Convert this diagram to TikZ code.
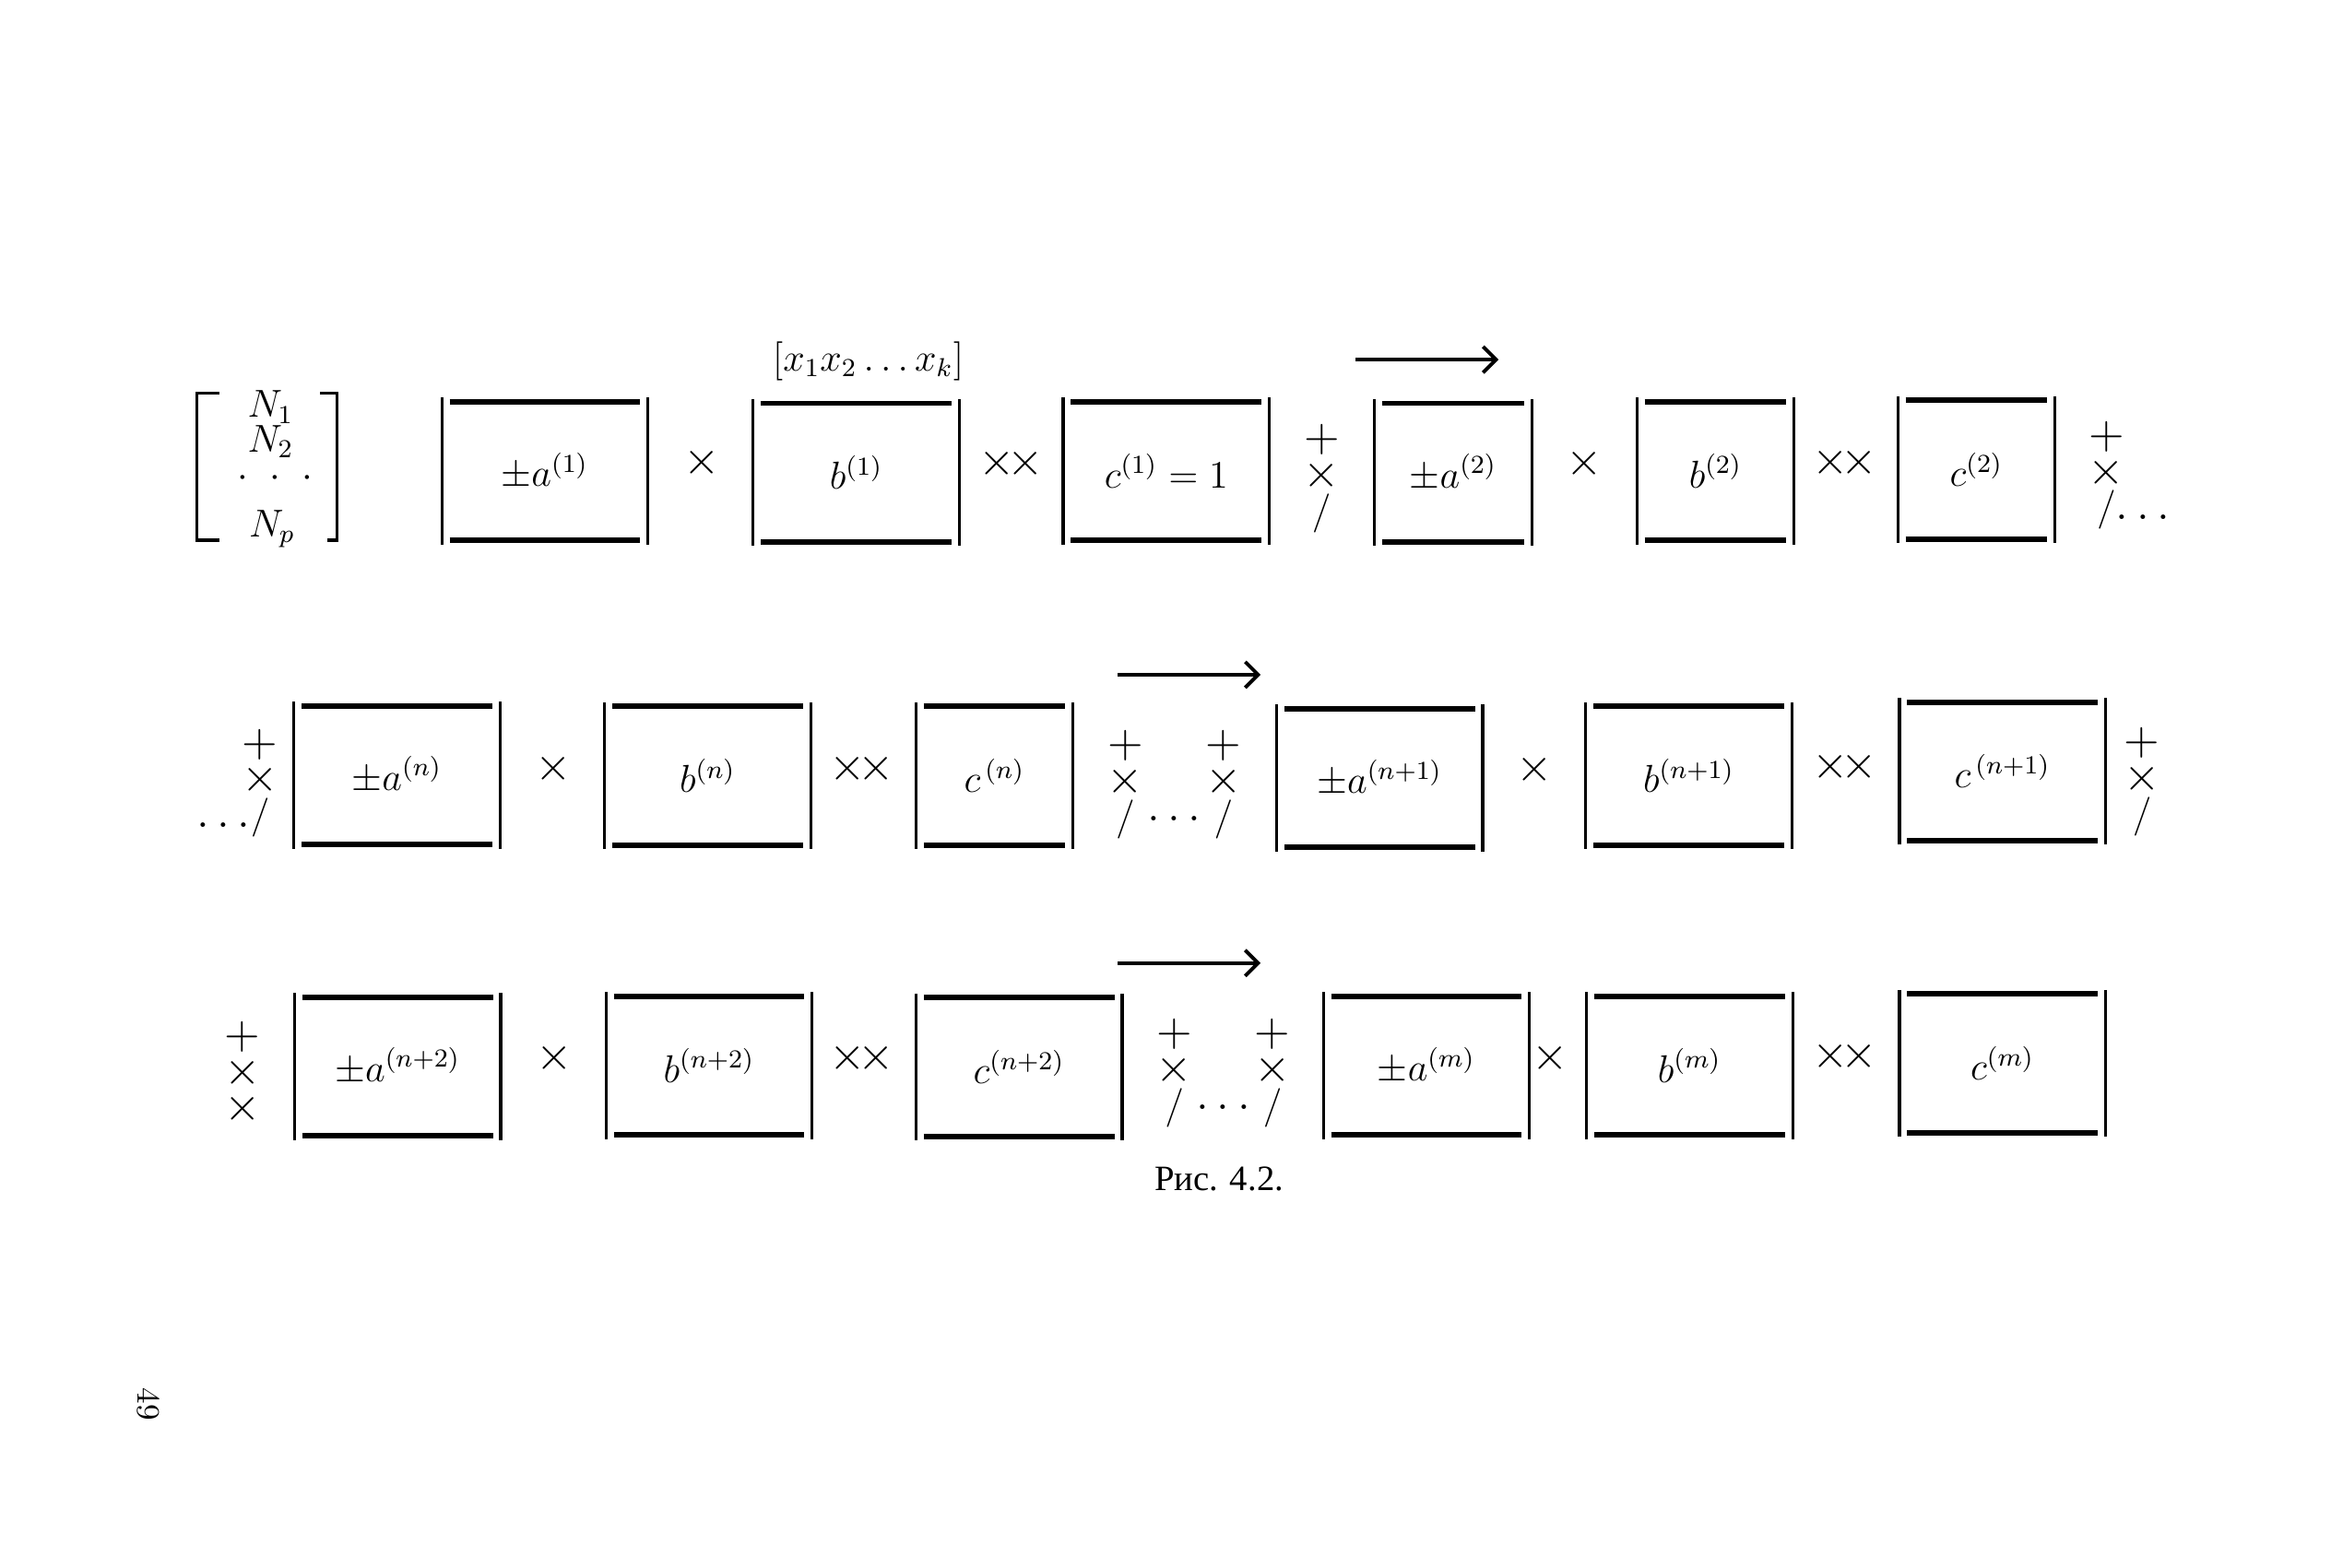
\documentclass[tikz,border=0pt]{standalone}
\usepackage{fontspec}
\newfontfamily\cyrfont{Liberation Serif}
\usetikzlibrary{arrows.meta, positioning}

\newcommand{\opslash}{{\large$/$}}

\begin{document}
\begin{tikzpicture}[
        x=0.01612cm, y=-0.01612cm,
        every node/.style={font=\large, inner sep=0pt},
        cell/.style={minimum height=1.58cm},
        wide/.style={cell, minimum width=2.22cm},
        narrow/.style={cell, minimum width=1.69cm},
        op/.style={font=\Large},
        ops/.style={align=center, font=\Large},
        arrow/.style={-{Straight Barb[length=4pt]}, line width=1.1pt}
    ]

    \tikzset{
    side/.style={line width=0.9pt},
    lid/.style={line width=1.7pt}
}

    \useasboundingbox (0,0) rectangle (1568,1055);

    % first row
    \node (vec) at (179.5,314) [minimum width=1.5cm, minimum height=1.58cm] {};
    \node (N1) at (182,274) {$N_1$};
    \node (N2) at (182,297) {$N_2$};
    \node (Nd) at (185,322) {$\cdot\ \cdot\ \cdot$};
    \node (Np) at (183,356) {$N_p$};

    \node (a1) at (366.5,317) [wide] {$\pm a^{(1)}$};
    \node (t1) at (472,311) [op] {$\times$};
    \node (b1) at (576,318) [wide] {$b^{(1)}$};
    \node (xs) at (584,243) {$[x_1x_2\ldots x_k]$};
    \node (tt1) at (680,312) [op] {${\times}\mkern-3mu{\times}$};
    \node (c1) at (784.5,317) [wide] {$c^{(1)}=1$};
    \node (s1) at (889,322) [ops] {$+$\\[-7pt]$\times$\\[-7pt]\opslash};
    \node (a2) at (977.5,318) [narrow] {$\pm a^{(2)}$};
    \node (t2) at (1066,312) [op] {$\times$};
    \node (b2) at (1154,317) [narrow] {$b^{(2)}$};
    \node (tt2) at (1241,311) [op] {${\times}\mkern-3mu{\times}$};
    \node (c2) at (1329.5,316) [narrow] {$c^{(2)}$};
    \node (s2) at (1417,320) [ops] {$+$\\[-7pt]$\times$\\[-7pt]\opslash\rlap{$\ldots$}};

    \coordinate (r1s) at (912,242);
    \coordinate (r1e) at (1008,242);

    % second row
    \node (s3) at (175,527) [ops] {$+$\\[-7pt]$\times$\\[-7pt]\llap{$\ldots$}\opslash};
    \node (an) at (267,521.5) [wide] {$\pm a^{(n)}$};
    \node (t3) at (372,517) [op] {$\times$};
    \node (bn) at (476,522) [wide] {$b^{(n)}$};
    \node (tt3) at (580,517) [op] {${\times}\mkern-3mu{\times}$};
    \node (cn) at (669,522) [narrow] {$c^{\,(n)}$};
    \node (s4) at (757,528) [ops] {$+$\\[-7pt]$\times$\\[-7pt]\opslash};
    \node (d1) at (790,551) [op] {$\ldots$};
    \node (s5) at (823,528) [ops] {$+$\\[-7pt]$\times$\\[-7pt]\opslash};
    \node (an1) at (928,523.5) [wide] {$\pm a^{(n+1)}$};
    \node (t4) at (1032,518) [op] {$\times$};
    \node (bn1) at (1136,522) [wide] {$b^{(n+1)}$};
    \node (tt4) at (1241,516) [op] {${\times}\mkern-3mu{\times}$};
    \node (cn1) at (1347,519) [wide] {$c^{\,(n+1)}$};
    \node (s6) at (1441,526) [ops] {$+$\\[-7pt]$\times$\\[-7pt]\opslash};

    \coordinate (r2s) at (752,454);
    \coordinate (r2e) at (848,454);

    % third row
    \node (s7) at (163,722) [ops] {$+$\\[-7pt]$\times$\\[-7pt]$\times$};
    \node (an2) at (267.5,717.5) [wide] {$\pm a^{(n+2)}$};
    \node (t5) at (373,712) [op] {$\times$};
    \node (bn2) at (477,717) [wide] {$b^{(n+2)}$};
    \node (tt5) at (580,712) [op] {${\times}\mkern-3mu{\times}$};
    \node (cn2) at (685.5,718) [wide] {$c^{(n+2)}$};
    \node (s8) at (790,722) [ops] {$+$\\[-7pt]$\times$\\[-7pt]\opslash};
    \node (d2) at (823,745) [op] {$\ldots$};
    \node (s9) at (856,722) [ops] {$+$\\[-7pt]$\times$\\[-7pt]\opslash};
    \node (am) at (959.5,717) [wide] {$\pm a^{(m)}$};
    \node (t6) at (1043,712) [op] {$\times$};
    \node (bm) at (1136.5,717) [wide] {$b^{(m)}$};
    \node (tt6) at (1241,711) [op] {${\times}\mkern-3mu{\times}$};
    \node (cm) at (1347,715.5) [wide] {$c^{(m)}$};

    \coordinate (r3s) at (752,648);
    \coordinate (r3e) at (848,648);

    \node (cap) at (820,793) [font=\cyrfont\fontsize{11}{13}\selectfont] {Рис. 4.2.};
    \node (page) at (100,945) [rotate=-90, font=\normalsize] {49};

    % brackets
    \draw[side] ([xshift=0.24cm]vec.north west) -- (vec.north west) -- (vec.south west) -- ([xshift=0.24cm]vec.south west);
    \draw[side] ([xshift=-0.18cm]vec.north east) -- (vec.north east) -- (vec.south east) -- ([xshift=-0.1cm]vec.south east);

    % boxes
    \foreach \b in {a1,b1,c1,a2,b2,c2,an,bn,cn,an1,bn1,cn1,an2,bn2,cn2,am,bm,cm} {
        \draw[side] (\b.north west) -- (\b.south west);
        \draw[side] (\b.north east) -- (\b.south east);
        \draw[lid] ([shift={(2.4pt,-1.3pt)}]\b.north west) -- ([shift={(-2.4pt,-1.3pt)}]\b.north east);
        \draw[lid] ([shift={(2.4pt,1.3pt)}]\b.south west) -- ([shift={(-2.4pt,1.3pt)}]\b.south east);
    }

    \draw[arrow] (r1s) -- (r1e);
    \draw[arrow] (r2s) -- (r2e);
    \draw[arrow] (r3s) -- (r3e);
\end{tikzpicture}
\end{document}
